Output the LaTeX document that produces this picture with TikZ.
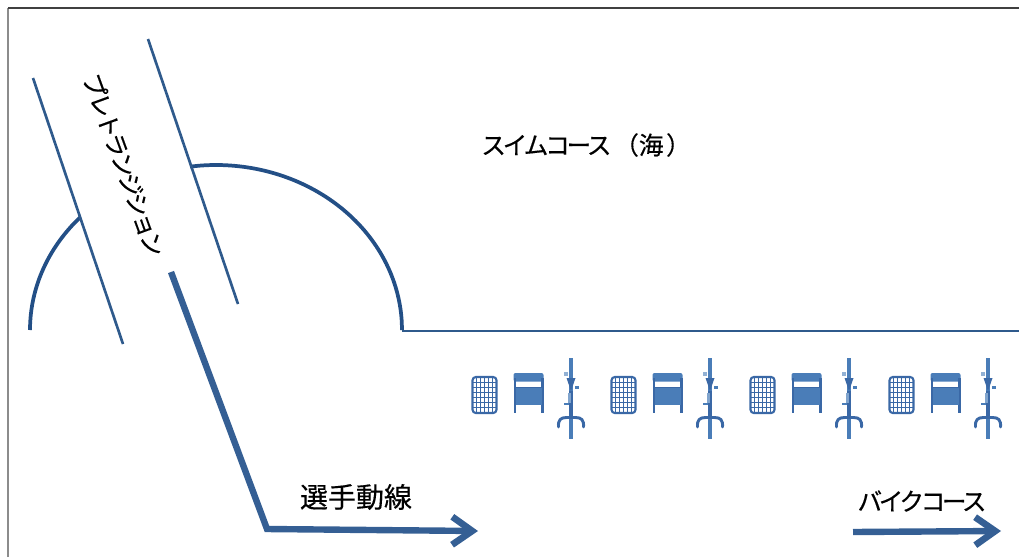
\documentclass[tikz,border=0pt]{standalone}
\usepackage{fontspec}
\setmainfont[FakeBold=0.4]{Noto Sans CJK JP}
\usetikzlibrary{arrows.meta}
\definecolor{thinblue}{HTML}{2F5A8C}
\definecolor{arcblue}{HTML}{234F86}
\definecolor{routeblue}{HTML}{355F94}
\definecolor{iconblue}{HTML}{4A7DB8}
\definecolor{icondark}{HTML}{3A68A6}
\tikzset{
  x=0.75pt,y=-0.75pt,
  thinline/.style={draw=thinblue,line width=2pt},
  arcline/.style={draw=arcblue,line width=2.8pt},
  route/.style={draw=routeblue,line width=4.8pt,line join=miter,
    -{Straight Barb[length=15pt,width=21pt,line width=5pt]}},
  label/.style={inner sep=0pt,text=black},
  pics/seatset/.style={code={
    % mesh panel
    \draw[icondark,line width=1.6pt,rounded corners=2.5pt] (2,4) rectangle (26,40);
    \foreach \i in {1,...,5}{\draw[icondark,line width=0.8pt] ({2+\i*4},4) -- ({2+\i*4},40);}
    \foreach \j in {1,...,6}{\draw[icondark,line width=0.8pt] (2,{4+\j*36/7}) -- (26,{4+\j*36/7});}
    % chair
    \fill[iconblue,rounded corners=1.5pt] (43,0) rectangle (73,8.5);
    \fill[icondark] (43,5) rectangle (45.5,40);
    \fill[icondark] (70.5,5) rectangle (73,40);
    \fill[iconblue] (45,14) rectangle (71,32);
    \fill[icondark] (45,13.5) rectangle (71,15);
    % rack
    \draw[iconblue,line width=2.6pt] (100.5,-15) -- (100.5,66);
    \fill[icondark] (96,5) -- (105,5) -- (100.5,18) -- cycle;
    \fill[icondark] (98.5,18) rectangle (102.5,44);
    \fill[iconblue!60] (93,-1) rectangle (97,2.5);
    \fill[iconblue] (104,13) rectangle (108,15.5);
    \fill[iconblue] (93,29.5) rectangle (98,32);
    \fill[iconblue!70] (97,20) rectangle (100,30);
    \draw[icondark,line width=2.2pt,line cap=round] (88,54) .. controls (87.5,47) and (90,44.5) .. (96,44.5)
      -- (105,44.5) .. controls (111,44.5) and (113.5,47) .. (113,54);
  }}
}
\begin{document}
\begin{tikzpicture}
\useasboundingbox (0,0) rectangle (1019,557);
% frame
\coordinate (frameBL) at (8,557);
\coordinate (frameTL) at (8,8);
\coordinate (frameTR) at (1019,8);
\draw[gray!90,line width=1pt] (frameBL) -- (frameTL);
\draw[black!75,line width=0.8pt] (frameTL) -- (frameTR);
% swim course edge
\coordinate (swimStart) at (402,331);
\coordinate (swimEnd) at (1019,331);
\draw[thinline,line width=1.5pt] (swimStart) -- (swimEnd);
% arcs
\draw[arcline] plot[smooth,domain=0:98,samples=30,variable=\t] ({216+186*cos(\t)},{330-165*sin(\t)});
\draw[arcline] plot[smooth,domain=137:180,samples=20,variable=\t] ({216+186*cos(\t)},{330-165*sin(\t)});
% transition zone edges
\coordinate (leftA) at (33,78);
\coordinate (leftB) at (123,344);
\coordinate (rightA) at (148,39);
\coordinate (rightB) at (238,304);
\draw[thinline] (leftA) -- (leftB);
\draw[thinline] (rightA) -- (rightB);
% labels
\node[label,font=\fontsize{18pt}{18pt}\selectfont\addfontfeature{LetterSpace=-12},rotate=-70] (pre) at (124,165) {プレトランジション};
\node[label,anchor=west,font=\fontsize{18.5pt}{18.5pt}\selectfont] (swim) at (481,145) {{\addfontfeature{LetterSpace=-13}スイムコース}\hspace{2pt}（海\hspace{2pt}）};
\node[label,font=\fontsize{21pt}{21pt}\selectfont] (route) at (356,497) {選手動線};
\node[label,font=\fontsize{18.5pt}{18.5pt}\selectfont\addfontfeature{LetterSpace=-14}] (bike) at (922,501) {バイクコース};
% routes
\coordinate (r1) at (171,272);
\coordinate (r2) at (267,529);
\coordinate (r3) at (478,531);
\draw[route] (r1) -- (r2) -- (r3);
\coordinate (b1) at (853,532);
\coordinate (b2) at (1001,531);
\draw[route] (b1) -- (b2);
% icons
\pic at (470.5,373) {seatset};
\pic at (609.5,373) {seatset};
\pic at (748.5,373) {seatset};
\pic at (887.5,373) {seatset};
\end{tikzpicture}
\end{document}
